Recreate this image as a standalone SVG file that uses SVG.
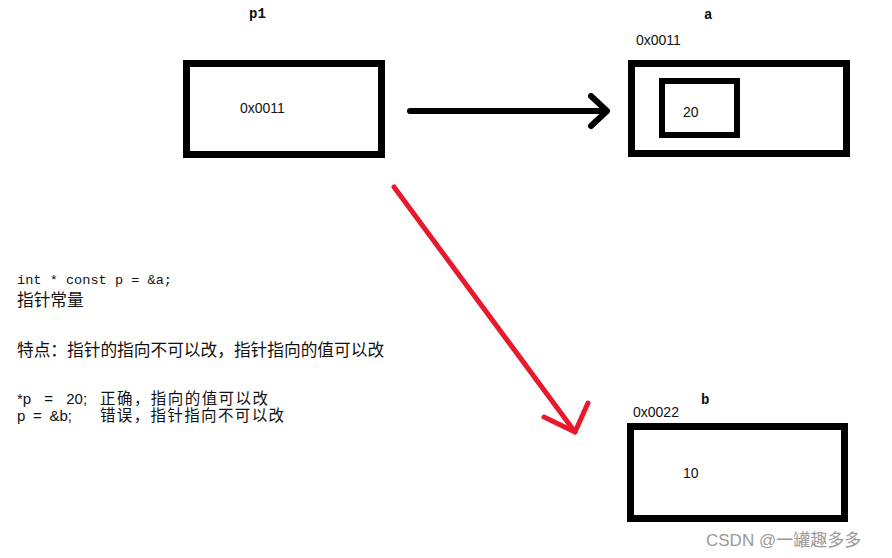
<svg xmlns="http://www.w3.org/2000/svg" width="892" height="558" viewBox="0 0 892 558">
<style>
.box{fill:none;stroke:#000;stroke-width:7}
.lbl{font-family:"Liberation Sans",Arial,sans-serif;font-size:14px;fill:#111}
.var{font-family:"Liberation Mono","Courier New",monospace;font-size:14px;font-weight:bold;fill:#111}
.code{font-family:"Liberation Mono","Courier New",monospace;font-size:13.6px;fill:#111}
.cn{font-family:"Liberation Sans","Noto Sans CJK SC",sans-serif;font-size:16.7px;fill:#111}
.cs{font-family:"Liberation Sans","Noto Sans CJK SC",sans-serif;font-size:15.5px;fill:#111}
.st{font-family:"Liberation Sans",Arial,sans-serif;font-size:15px;fill:#111}
.wm{font-family:"Liberation Sans","Noto Sans CJK SC",sans-serif;font-size:17px;fill:#999}
</style>
<rect width="892" height="558" fill="#fff"/>
<g id="p1">
<text class="var" x="249" y="18">p1</text>
<rect class="box" x="186.5" y="63.5" width="195" height="91"/>
<text class="lbl" x="240" y="113">0x0011</text>
</g>
<g id="a">
<text class="var" x="704" y="19">a</text>
<text class="lbl" x="636" y="45">0x0011</text>
<rect class="box" x="631.5" y="63.5" width="215" height="90"/>
<rect class="box" x="662" y="81" width="75" height="54" style="stroke-width:6"/>
<text class="lbl" x="683" y="117">20</text>
</g>
<g id="b">
<text class="var" x="701" y="404">b</text>
<text class="lbl" x="633" y="417">0x0022</text>
<rect class="box" x="630.5" y="426.5" width="214" height="92"/>
<text class="lbl" x="683" y="478">10</text>
</g>
<g id="connectors" fill="none" stroke-linecap="round" stroke-linejoin="round">
<path d="M410 111 H606" stroke="#000" stroke-width="6"/>
<path d="M591 96 L607 111 L591 126" stroke="#000" stroke-width="6"/>
<path d="M394 187 L575 432" stroke="#e8192c" stroke-width="5"/>
<path d="M544 417 L575 432 L588 403" stroke="#e8192c" stroke-width="5"/>
</g>
<g id="notes">
<text class="code" x="17" y="284">int * const p = &amp;a;</text>
<text class="cn" x="17" y="306">指针常量</text>
<text class="cn" x="17" y="356">特点：指针的指向不可以改，指针指向的值可以改</text>
<text class="st" x="17" y="404" word-spacing="9">*p = 20;</text>
<text class="cs" x="100" y="404" textLength="168" lengthAdjust="spacing">正确，指向的值可以改</text>
<text class="st" x="17" y="421" word-spacing="3.5">p = &amp;b;</text>
<text class="cs" x="100" y="421" textLength="184" lengthAdjust="spacing">错误，指针指向不可以改</text>
</g>
<text class="wm" x="706" y="546">CSDN @一罐趣多多</text>
</svg>
